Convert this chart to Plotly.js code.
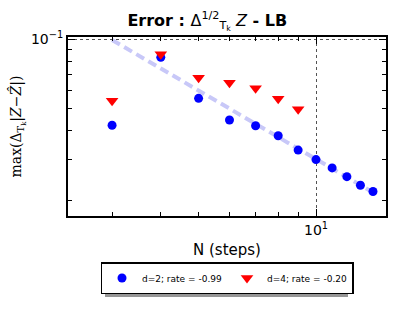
<!DOCTYPE html>
<html>
<head>
<meta charset="utf-8">
<script src="https://cdn.plot.ly/plotly-3.0.1.min.js"></script>
<style>
  html, body { margin: 0; padding: 0; background: #fff; }
  #chart { width: 417px; height: 334px; }
</style>
</head>
<body>
<div id="chart"></div>
<script>
// number of steps
var stepsD2 = [3, 4, 5, 6, 7, 8, 9, 10, 11, 12, 13, 14];
var stepsD4 = [3, 4, 5, 6, 7, 8, 9];

// max error values
var errD2 = [0.0423, 0.0835, 0.0554, 0.0446, 0.0421, 0.0381, 0.0330, 0.0300, 0.0276, 0.0253, 0.0232, 0.0218];
var errD4 = [0.0541, 0.0861, 0.0681, 0.0647, 0.0612, 0.0552, 0.0497];

// fitted rate line (d=2), end points
var fitSteps = [3, 14];
var fitErr = [0.0993, 0.0216];

var labelD2 = 'd=2; rate = -0.99';
var labelD4 = 'd=4; rate = -0.20';

var data = [{
    x: fitSteps,
    y: fitErr,
    mode: 'lines',
    line: {color: 'rgb(200,200,248)', width: 4, dash: '9px,5px'},
    showlegend: false,
    hoverinfo: 'skip'
  }, {
    x: stepsD2,
    y: errD2,
    mode: 'markers',
    name: labelD2,
    marker: {symbol: 'circle', size: 9, color: 'blue'}
  }, {
    x: stepsD4,
    y: errD4,
    mode: 'markers',
    name: labelD4,
    marker: {symbol: 'triangle-down', size: 11, color: 'red'}
  }];

var layout = {
  width: 417,
  height: 334,
  margin: {l: 68, r: 31, t: 37, b: 118},
  paper_bgcolor: 'white',
  plot_bgcolor: 'white',
  font: {family: 'DejaVu Sans', color: 'black'},
  title: {
    text: '<b>Error : </b>Δ<sup>1/2</sup><sub>T<sub>k</sub></sub> <i>Z</i><b> - LB</b>',
    font: {family: 'DejaVu Sans', size: 16, color: 'black'},
    x: 0.497,
    xanchor: 'center',
    y: 0.94,
    yanchor: 'middle'
  },
  xaxis: {
    type: 'log',
    range: [0.3641, 1.1795],
    showline: true,
    linecolor: 'black',
    linewidth: 2,
    mirror: 'allticks',
    ticks: 'inside',
    ticklen: 7,
    tickcolor: 'black',
    tickmode: 'array',
    tickvals: [10],
    ticktext: ['10<sup>1</sup>'],
    tickfont: {size: 14},
    showgrid: true,
    gridcolor: 'rgb(40,40,40)',
    gridwidth: 0.8,
    griddash: 'dot',
    zeroline: false,
    minor: {tickmode: 'array', tickvals: [3, 4, 5, 6, 7, 8, 9], ticks: 'inside', ticklen: 4, tickcolor: 'black', showgrid: false},
    title: {text: 'N (steps)', font: {size: 15}, standoff: 8}
  },
  yaxis: {
    type: 'log',
    range: [-1.768, -0.99],
    showline: true,
    linecolor: 'black',
    linewidth: 2,
    mirror: 'allticks',
    ticks: 'inside',
    ticklen: 7,
    tickcolor: 'black',
    tickmode: 'array',
    tickvals: [0.1],
    ticktext: ['10<sup>−1</sup>'],
    tickfont: {size: 14},
    showgrid: true,
    gridcolor: 'rgb(40,40,40)',
    gridwidth: 0.8,
    griddash: 'dot',
    zeroline: false,
    minor: {tickmode: 'array', tickvals: [0.02, 0.03, 0.04, 0.05, 0.06, 0.07, 0.08, 0.09], ticks: 'inside', ticklen: 4, tickcolor: 'black', showgrid: false},
    title: {
      text: 'max(Δ<sub>T<sub>k</sub></sub>|<i>Z</i>−<i>Ẑ</i>|)',
      font: {family: 'DejaVu Serif', size: 14},
      standoff: 6
    }
  },
  showlegend: true,
  legend: {
    orientation: 'h',
    x: 0.5,
    xanchor: 'center',
    y: -0.257,
    yanchor: 'top',
    bgcolor: 'white',
    bordercolor: 'black',
    borderwidth: 1.5,
    font: {family: 'DejaVu Sans', size: 9},
    itemwidth: 30,
    entrywidth: 80,
    tracegroupgap: 0,
    itemclick: false
  },
  // drop shadow behind the legend box
  shapes: [{
    type: 'rect',
    xref: 'paper',
    yref: 'paper',
    x0: 0.1164,
    x1: 0.8805,
    y0: -0.274,
    y1: -0.4525,
    fillcolor: 'rgb(150,150,150)',
    line: {width: 0},
    layer: 'below'
  }]
};

Plotly.newPlot('chart', data, layout, {displayModeBar: false, staticPlot: true});
</script>
</body>
</html>
